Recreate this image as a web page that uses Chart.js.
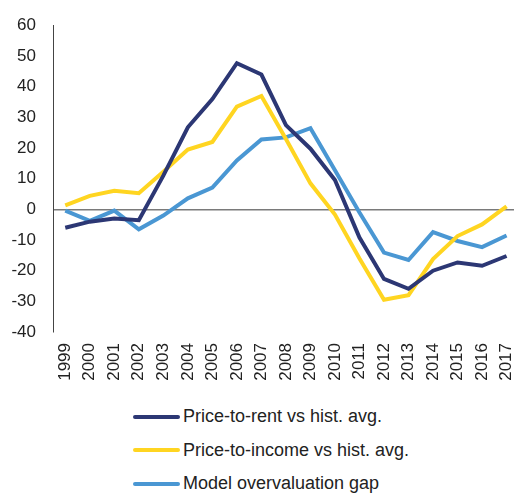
<!DOCTYPE html>
<html>
<head>
<meta charset="utf-8">
<script src="https://cdn.jsdelivr.net/npm/chart.js@4.4.1/dist/chart.umd.min.js"></script>
<style>
    html, body { margin: 0; padding: 0; background: #fff; overflow: hidden; }
    body { width: 514px; height: 493px; position: relative; font-family: "Liberation Sans", Arial, sans-serif; }
    #wrap { position: absolute; left: 0; top: 0; width: 538px; height: 392px; }
    #legend { position: absolute; left: 133px; top: 400px; color: #222; font-size: 18px; }
    .item { display: flex; align-items: center; height: 33.5px; }
    .swatch { width: 47px; height: 4px; border-radius: 2px; margin-right: 3px; }
</style>
</head>
<body>
<div id="wrap"><canvas id="chart"></canvas></div>
<div id="legend"></div>
<script>
// Dados
const years = ['1999', '2000', '2001', '2002', '2003', '2004', '2005', '2006', '2007', '2008',
    '2009', '2010', '2011', '2012', '2013', '2014', '2015', '2016', '2017'];
const priceToRent = [-6, -4, -3, -3.5, 11, 26.8, 36, 47.7, 44, 27.5, 19.8, 9.6, -9.2, -22.7, -25.9, -20, -17.3, -18.4, -15.2];
const priceToIncome = [1.3, 4.4, 6.1, 5.3, 12.3, 19.5, 22, 33.5, 37, 23, 8.5, -1.7, -16, -29.5, -28, -16.2, -8.7, -4.9, 1];
const modelGap = [-0.4, -3.7, -0.4, -6.5, -2, 3.6, 7.1, 16, 22.8, 23.5, 26.5, 12.8, -1, -14.1, -16.5, -7.4, -10.3, -12.3, -8.5];
const yTicks = [-40, -30, -20, -10, 0, 10, 20, 30, 40, 50, 60];

const textColor = '#222';
const font = { family: '"Liberation Sans", Arial, sans-serif', size: 17 };

function serie(label, data, color) {
    return {
        label: label,
        data: data,
        borderColor: color,
        backgroundColor: color,
        borderWidth: 4,
        pointRadius: 0,
        tension: 0,
        fill: false
    };
}

const ctx = document.getElementById('chart').getContext('2d');
const chart = new Chart(ctx, {
    type: 'line',
    data: {
        labels: years,
        datasets: [
            serie('Price-to-rent vs hist. avg.', priceToRent, '#2c3774'),
            serie('Price-to-income vs hist. avg.', priceToIncome, '#ffd521'),
            serie('Model overvaluation gap', modelGap, '#4a97d3')
        ]
    },
    options: {
        responsive: true,
        maintainAspectRatio: false,
        animation: false,
        layout: { padding: { top: 0, right: 1, left: 0, bottom: 0 } },
        plugins: {
            legend: { display: false },
            tooltip: { enabled: false }
        },
        scales: {
            x: {
                offset: true,
                grid: { display: false, drawTicks: false },
                border: { display: false },
                ticks: {
                    color: textColor, font: font,
                    minRotation: 90, maxRotation: 90,
                    padding: 11, autoSkip: false
                },
                afterFit: function (scale) { scale.height = 60; }
            },
            y: {
                min: -40,
                max: 60,
                afterBuildTicks: function (scale) {
                    scale.ticks = yTicks.map(v => ({ value: v }));
                },
                afterFit: function (scale) { scale.width = 53; },
                grid: {
                    drawTicks: false,
                    lineWidth: 1.5,
                    color: c => (c.tick && c.tick.value === 0) ? '#7a7a7a' : 'rgba(0,0,0,0)'
                },
                border: { display: true, color: '#444', width: 1 },
                ticks: { color: textColor, font: { ...font, lineHeight: 1 }, padding: 17 }
            }
        }
    },
    plugins: [{
        // ajusta o topo da área do gráfico
        id: 'topo',
        beforeLayout: function (c) { c.options.layout.padding.top = 0; }
    }]
});

// Legenda em HTML (lista vertical)
const legendDiv = document.getElementById('legend');
chart.data.datasets.forEach(ds => {
    const item = document.createElement('div');
    item.className = 'item';
    const sw = document.createElement('span');
    sw.className = 'swatch';
    sw.style.background = ds.borderColor;
    const txt = document.createElement('span');
    txt.textContent = ds.label;
    item.appendChild(sw);
    item.appendChild(txt);
    legendDiv.appendChild(item);
});
</script>
</body>
</html>
